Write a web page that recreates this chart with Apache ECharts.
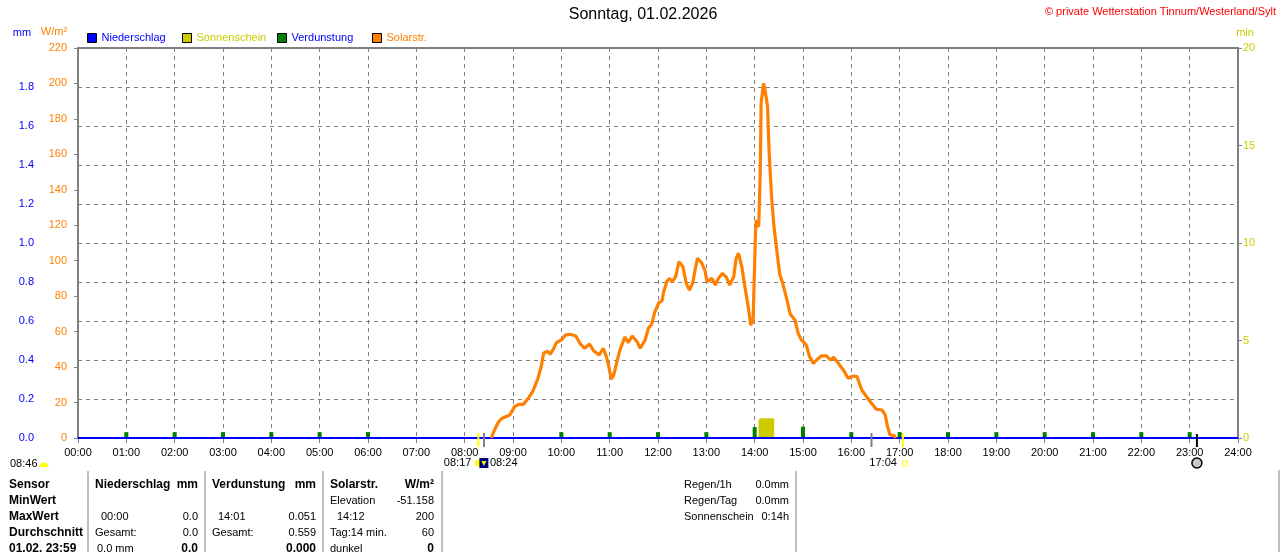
<!DOCTYPE html>
<html><head><meta charset="utf-8">
<script src="https://cdn.jsdelivr.net/npm/echarts@6/dist/echarts.min.js"></script>
<style>html,body{margin:0;padding:0;background:#fff}#c{width:1280px;height:552px}</style>
</head><body><div id="c"></div>
<script>
// ---------- data ----------
const xTickLabels = ['00:00','01:00','02:00','03:00','04:00','05:00','06:00','07:00','08:00','09:00','10:00','11:00','12:00','13:00','14:00','15:00','16:00','17:00','18:00','19:00','20:00','21:00','22:00','23:00','24:00'];
const mmTickLabels = ['0.0','0.2','0.4','0.6','0.8','1.0','1.2','1.4','1.6','1.8',''];

const solarTimes = ['08:33','08:35','08:38','08:42','08:46','08:56','09:02','09:07','09:13','09:19','09:25','09:31','09:35','09:38','09:43','09:46','09:50','09:54','10:01','10:05','10:11','10:18','10:23','10:29','10:35','10:40','10:47','10:52','10:56','10:59','11:02','11:05','11:09','11:13','11:19','11:23','11:28','11:34','11:38','11:44','11:48','11:52','11:56','12:01','12:05','12:07','12:11','12:14','12:18','12:22','12:26','12:31','12:35','12:39','12:43','12:46','12:49','12:54','12:58','13:01','13:07','13:11','13:15','13:20','13:25','13:29','13:34','13:37','13:40','13:44','13:48','13:52','13:55','13:58','14:00','14:01','14:02','14:05','14:07','14:08','14:11','14:13','14:16','14:18','14:21','14:24','14:28','14:31','14:35','14:40','14:44','14:50','14:54','14:58','15:04','15:08','15:13','15:17','15:23','15:29','15:34','15:38','15:44','15:50','15:56','16:02','16:07','16:13','16:19','16:25','16:31','16:38','16:42','16:45','16:48','16:53','16:55'];
const solarValues = [0,1,5.5,9,11,13,17.7,19,19,22.4,26.7,33.7,40.2,47.8,49,47.2,50,53.8,55.7,58.1,58.5,57.5,53.4,50.6,53,49.2,46.8,50.6,45.9,40.2,33.1,35.5,43,50,57,53.8,57.5,54.3,50.6,55.3,61.9,64,71,76.3,77.3,82.5,88.2,90,88.2,91,99.5,96.6,87.3,83.5,87.3,94.8,101.4,98.9,94.8,88.2,90,86.3,90,92.9,90.6,86.3,91,101.4,104.2,96.6,85,74,63.7,66,98,116,123,119,151,189,200,196,187,161,136,119,104,92.5,87,78,70,66.6,59,55.3,52.5,46,42.1,44,46.4,46.3,44,45.5,42.1,38.4,33.7,35,34.6,27.1,23.3,19.6,16.2,15.8,13,6.4,1.7,1.5,0];

const evapTimes = ['01:00','02:00','03:00','04:00','05:00','06:00','10:00','11:00','12:00','13:00','14:00','15:00','16:00','17:00','18:00','19:00','20:00','21:00','22:00','23:00'];
const evapValues = [0.03,0.03,0.03,0.03,0.03,0.03,0.03,0.03,0.03,0.03,0.056,0.058,0.03,0.03,0.03,0.03,0.03,0.03,0.03,0.03];

const sunshineTimes = ['14:06','14:07','14:08','14:09','14:10','14:11','14:12','14:13','14:14','14:15','14:16','14:17','14:18','14:19','14:20','14:21','14:22','14:23'];
const sunshineValues = [0.95,0.95,1,1,1,1,1,1,1,1,1,1,1,1,1,1,1,1];

const rainTimes = ['00:00','04:00','08:00','12:00','16:00','20:00','24:00'];
const rainValues = [0,0,0,0,0,0,0];

const markerTimes = {sunriseYellow:'08:17', sunriseGray:'08:24', sunsetGray:'16:25', sunsetYellow:'17:04', moon:'23:09'};

const tableRows = [
  ['Sensor','Niederschlag','mm','Verdunstung','mm','Solarstr.','W/m²'],
  ['MinWert','','','','','Elevation','-51.158'],
  ['MaxWert','00:00','0.0','14:01','0.051','14:12','200'],
  ['Durchschnitt','Gesamt:','0.0','Gesamt:','0.559','Tag:14 min.','60'],
  ['01.02. 23:59','0.0 mm','0.0','','0.000','dunkel','0']
];
const sideRows = [['Regen/1h','0.0mm'],['Regen/Tag','0.0mm'],['Sonnenschein','0:14h']];

// ---------- helpers ----------
function toH(s){const p=s.split(':');return (+p[0])+(+p[1])/60;}
function pairs(t,v){return t.map((s,i)=>[toH(s),v[i]]);}

const FONT = 'Liberation Sans';
const GRAY = '#808080';
const ORANGE = '#ff8000';
const BLUE = '#0000ff';
const YEL = '#cccc00';
const GREEN = '#008000';

const chart = echarts.init(document.getElementById('c'), null, {renderer:'canvas'});

const option = {
  animation:false,
  backgroundColor:'#fff',
  grid:{left:78,right:42,top:48,bottom:114,show:true,borderColor:GRAY,borderWidth:2,backgroundColor:'transparent'},
  xAxis:[{
    type:'value',min:0,max:24,interval:1,
    axisLine:{show:true,lineStyle:{color:GRAY,width:2}},
    axisTick:{show:true,length:5,lineStyle:{color:GRAY,width:1}},
    axisLabel:{color:'#000',fontFamily:FONT,fontSize:11,margin:9,formatter:v=>xTickLabels[Math.round(v)]},
    splitLine:{show:true,lineStyle:{color:GRAY,width:1,type:[4,4]}}
  },{
    type:'value',min:0,max:24,show:false
  }],
  yAxis:[{
    type:'value',min:0,max:220,interval:20,position:'left',
    axisLine:{show:true,lineStyle:{color:GRAY,width:2}},
    axisTick:{show:true,length:4,lineStyle:{color:GRAY}},
    axisLabel:{color:ORANGE,fontFamily:FONT,fontSize:11,margin:11},
    splitLine:{show:false}
  },{
    type:'value',min:0,max:2,interval:0.2,position:'left',offset:38,
    axisLine:{show:true,lineStyle:{color:GRAY,width:1}},
    axisTick:{show:false},
    axisLabel:{color:BLUE,fontFamily:FONT,fontSize:11,margin:6,formatter:(v)=>mmTickLabels[Math.round(v/0.2)]},
    splitLine:{show:true,lineStyle:{color:GRAY,width:1,type:[4,4]}}
  },{
    type:'value',min:0,max:20,interval:5,position:'right',
    axisLine:{show:true,lineStyle:{color:GRAY,width:2}},
    axisTick:{show:true,length:4,lineStyle:{color:GRAY}},
    axisLabel:{color:YEL,fontFamily:FONT,fontSize:11,margin:5},
    splitLine:{show:false}
  }],
  series:[
    {name:'Sonnenschein',type:'bar',xAxisIndex:1,yAxisIndex:2,barWidth:2,itemStyle:{color:YEL},data:pairs(sunshineTimes,sunshineValues),z:2},
    {name:'Verdunstung',type:'bar',xAxisIndex:0,yAxisIndex:1,barWidth:4,itemStyle:{color:GREEN},data:pairs(evapTimes,evapValues),z:3},
    {name:'Niederschlag',type:'line',xAxisIndex:0,yAxisIndex:1,showSymbol:false,lineStyle:{color:BLUE,width:2},data:pairs(rainTimes,rainValues),z:4},
    {name:'Solarstr.',type:'line',xAxisIndex:0,yAxisIndex:0,showSymbol:false,lineStyle:{color:ORANGE,width:3.2},data:pairs(solarTimes,solarValues),z:5}
  ]
};
chart.setOption(option);

// ---------- static graphics ----------
function txt(x,y,text,color,opts){
  opts=opts||{};
  return {type:'text',x:x,y:y,silent:true,z:100,style:{text:text,fill:color||'#000',font:(opts.bold?'bold ':'')+(opts.size||11)+'px "'+FONT+'"',align:opts.align||'left',verticalAlign:'middle'}};
}
function vline(x,y1,y2,color,w){return {type:'line',silent:true,z:100,shape:{x1:x,y1:y1,x2:x,y2:y2},style:{stroke:color,lineWidth:w||1}};}
function rect(x,y,w,h,fill,stroke){return {type:'rect',silent:true,z:100,shape:{x:x,y:y,width:w,height:h},style:{fill:fill,stroke:stroke||null,lineWidth:1}};}

const g = [];
// title and header
g.push(txt(643,15,'Sonntag, 01.02.2026','#000',{size:16,align:'center'}));
g.push(txt(1276,12,'© private Wetterstation Tinnum/Westerland/Sylt','#ff0000',{align:'right'}));
g.push(txt(22,33,'mm',BLUE,{align:'center'}));
g.push(txt(54,32,'W/m²',ORANGE,{align:'center'}));
g.push(txt(1245,33,'min',YEL,{align:'center'}));
// legend
const legendItems=[['Niederschlag',BLUE,BLUE,87.5],['Sonnenschein',YEL,YEL,182.5],['Verdunstung',GREEN,BLUE,277.5],['Solarstr.',ORANGE,ORANGE,372.5]];
legendItems.forEach(it=>{g.push(rect(it[3],33.5,9,9,it[1],'#000'));g.push(txt(it[3]+14,38,it[0],it[2]));});

// bottom annotations
g.push(txt(10,464,'08:46','#000'));
g.push({type:'sector',silent:true,z:100,shape:{cx:44,cy:467,r0:0,r:4.5,startAngle:Math.PI,endAngle:Math.PI*2},style:{fill:'#ffff00'}});

// table
const colX=[{x:9,a:'left'},{x:95,a:'left'},{x:198,a:'right'},{x:212,a:'left'},{x:316,a:'right'},{x:330,a:'left'},{x:434,a:'right'}];
const rowY=[485,501,517,533,549];
tableRows.forEach((row,ri)=>{
  row.forEach((cell,ci)=>{
    if(!cell) return;
    let bold = ri===0 || ci===0 || (ri===4 && (ci===2||ci===4||ci===6));
    let x=colX[ci].x;
    if(ri===2 && ci===1) x=101;
    if(ri===2 && ci===3) x=218;
    if(ri===2 && ci===5) x=337;
    if(ri===4 && ci===1) x=97;
    g.push(txt(x,rowY[ri],cell,'#000',{bold:bold,size:bold?12:11,align:colX[ci].a}));
  });
});
sideRows.forEach((r,i)=>{g.push(txt(684,rowY[i],r[0],'#000'));g.push(txt(789,rowY[i],r[1],'#000',{align:'right'}));});
[88,205,323,442,796].forEach(x=>g.push(vline(x,471,552,GRAY,1)));
g.push(vline(1279,470,552,GRAY,1));

// time markers through the axis scale
function px(t){return chart.convertToPixel({xAxisIndex:0},toH(t));}
const xSY=px(markerTimes.sunriseYellow), xSG=px(markerTimes.sunriseGray), xEG=px(markerTimes.sunsetGray), xEY=px(markerTimes.sunsetYellow), xM=px(markerTimes.moon);
g.push(vline(xSY,433,447,'#ffff00',2));
g.push(vline(xSG,433,447,GRAY,2));
g.push(vline(xEG,433,447,GRAY,2));
g.push(vline(xEY,433,447,'#ffff00',2));
g.push(vline(xM,434,447,'#000',2));
g.push(txt(xSY-7,463,'08:17','#000',{align:'right'}));
g.push(txt(xSG+6,463,'08:24','#000'));
g.push({type:'circle',silent:true,z:100,shape:{cx:xSY,cy:463,r:3.5},style:{fill:'#ffff00'}});
g.push(rect(xSY+1,458,9,10,'#000080',null));
g.push({type:'polygon',silent:true,z:101,shape:{points:[[xSY+3,461],[xSY+8,461],[xSY+5.5,466]]},style:{fill:'#ffff00'}});
g.push(txt(xEY-6,463,'17:04','#000',{align:'right'}));
g.push(rect(xEY-0.5,461,5,5,null,'#ffff00'));
g.push({type:'circle',silent:true,z:100,shape:{cx:xM,cy:463,r:5},style:{fill:'#c8c8c8',stroke:'#000',lineWidth:1.5}});

chart.setOption({graphic:g});
</script></body></html>
